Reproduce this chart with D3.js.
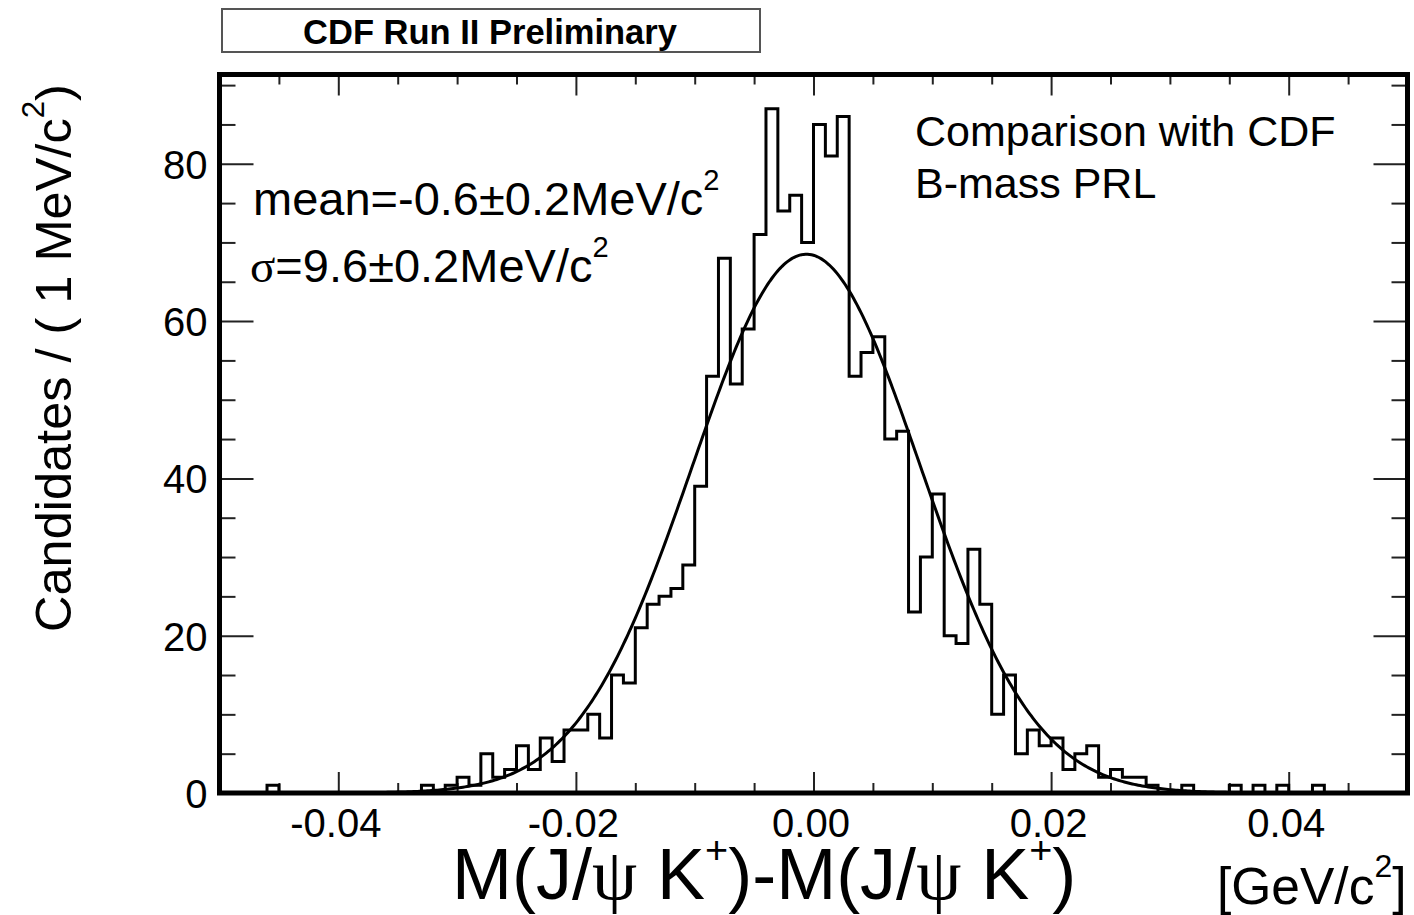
<!DOCTYPE html>
<html>
<head>
<meta charset="utf-8">
<script src="https://cdn.jsdelivr.net/npm/d3@7"></script>
<style>
  html, body { margin: 0; padding: 0; background: #fff; }
  svg { display: block; }
  text { font-family: "Liberation Sans", Arial, Helvetica, sans-serif; fill: #000; }
</style>
</head>
<body>
<svg id="chart" width="1414" height="915"></svg>
<script>
// ---------------- data ----------------
// histogram range and binning (GeV/c^2)
const histMin = -0.05;
const histMax = 0.05;
const nBins = 100;
// candidates per 1 MeV/c^2 bin
const counts = [
  0, 0, 0, 0, 1, 0, 0, 0, 0, 0,
  0, 0, 0, 0, 0, 0, 0, 1, 0, 1,
  2, 1, 5, 2, 3, 6, 3, 7, 4, 8,
  8, 10, 7, 15, 14, 21, 24, 25, 26, 29,
  39, 53, 68, 52, 59, 71, 87, 74, 76, 70,
  85, 81, 86, 53, 56, 58, 45, 46, 23, 30,
  38, 20, 19, 31, 24, 10, 15, 5, 8, 6,
  7, 3, 5, 6, 2, 3, 2, 2, 1, 0,
  0, 1, 0, 0, 0, 1, 0, 1, 0, 1,
  0, 0, 1, 0, 0, 0, 0, 0, 0, 0
];
// Gaussian fit parameters
const fitMean = -0.0006;
const fitSigma = 0.0096;
const fitPeak = 68.5;
// axis ticks
const xMajorTicks = [-0.04, -0.02, 0.00, 0.02, 0.04];
const xTickLabels = ["-0.04", "-0.02", "0.00", "0.02", "0.04"];
const yMajorTicks = [0, 20, 40, 60, 80];
const yTickLabels = ["0", "20", "40", "60", "80"];

// ---------------- layout ----------------
const svg = d3.select("#chart");
const frame = { left: 219.5, right: 1407.5, top: 74.5, bottom: 793 };
const yMax = d3.max(counts) * 1.05;

const x = d3.scaleLinear().domain([histMin, histMax]).range([frame.left, frame.right]);
const y = d3.scaleLinear().domain([0, yMax]).range([frame.bottom, frame.top]);

const binW = (histMax - histMin) / nBins;
const bins = counts.map((c, i) => ({ x0: histMin + i * binW, x1: histMin + (i + 1) * binW, c }));

// ---------------- ticks (drawn with d3 axes, inside the frame) ----------------
const xMinorTicks = d3.range(-0.05, 0.0501, 0.005).map(v => +v.toFixed(4)).filter(v => !xMajorTicks.some(m => Math.abs(m - v) < 1e-9) && v > histMin + 1e-9 && v < histMax - 1e-9);
const yMinorTicks = d3.range(5, yMax, 5).filter(v => v % 20 !== 0);

const xTickLen = 21, xMinorLen = 10, yTickLen = 34, yMinorLen = 16;
const tickStyle = g => g.selectAll("line").attr("stroke", "#222").attr("stroke-width", 2);

function axisGroup(axis, transform) {
  const g = svg.append("g").attr("transform", transform).call(axis);
  g.select(".domain").remove();
  g.selectAll("text").remove();
  tickStyle(g);
  return g;
}
// bottom
axisGroup(d3.axisTop(x).tickValues(xMajorTicks).tickSize(xTickLen), `translate(0,${frame.bottom})`);
axisGroup(d3.axisTop(x).tickValues(xMinorTicks).tickSize(xMinorLen), `translate(0,${frame.bottom})`);
// top
axisGroup(d3.axisBottom(x).tickValues(xMajorTicks).tickSize(xTickLen), `translate(0,${frame.top})`);
axisGroup(d3.axisBottom(x).tickValues(xMinorTicks).tickSize(xMinorLen), `translate(0,${frame.top})`);
// left
axisGroup(d3.axisRight(y).tickValues(yMajorTicks).tickSize(yTickLen), `translate(${frame.left},0)`);
axisGroup(d3.axisRight(y).tickValues(yMinorTicks).tickSize(yMinorLen), `translate(${frame.left},0)`);
// right
axisGroup(d3.axisLeft(y).tickValues(yMajorTicks).tickSize(yTickLen), `translate(${frame.right},0)`);
axisGroup(d3.axisLeft(y).tickValues(yMinorTicks).tickSize(yMinorLen), `translate(${frame.right},0)`);

// tick labels
const xLab = svg.append("g").attr("transform", `translate(0,${frame.bottom})`)
  .call(d3.axisBottom(x).tickValues(xMajorTicks).tickSize(0).tickPadding(0).tickFormat((d, i) => xTickLabels[i]));
xLab.select(".domain").remove();
xLab.selectAll("text").attr("font-size", 40).attr("font-family", "Liberation Sans, Arial, sans-serif")
  .attr("fill", "#000").attr("dy", null).attr("y", 44).attr("dx", -3);

const yLab = svg.append("g").attr("transform", `translate(${frame.left},0)`)
  .call(d3.axisLeft(y).tickValues(yMajorTicks).tickSize(0).tickPadding(12).tickFormat((d, i) => yTickLabels[i]));
yLab.select(".domain").remove();
yLab.selectAll("text").attr("font-size", 40).attr("font-family", "Liberation Sans, Arial, sans-serif")
  .attr("fill", "#000").attr("dy", "0.36em");

// ---------------- histogram outline ----------------
const pts = [[histMin, 0]];
bins.forEach(b => { pts.push([b.x0, b.c]); pts.push([b.x1, b.c]); });
pts.push([histMax, 0]);
svg.append("path")
  .attr("d", d3.line().x(d => x(d[0])).y(d => y(d[1]))(pts))
  .attr("fill", "none").attr("stroke", "#000").attr("stroke-width", 3)
  .attr("stroke-linejoin", "miter");

// ---------------- Gaussian fit curve ----------------
const curveX = d3.range(0, 601).map(i => histMin + i * (histMax - histMin) / 600);
const gauss = v => fitPeak * Math.exp(-0.5 * Math.pow((v - fitMean) / fitSigma, 2));
svg.append("path")
  .attr("d", d3.line().x(d => x(d)).y(d => y(gauss(d))).curve(d3.curveLinear)(curveX))
  .attr("fill", "none").attr("stroke", "#000").attr("stroke-width", 3);

// ---------------- frame ----------------
svg.append("rect")
  .attr("x", frame.left).attr("y", frame.top)
  .attr("width", frame.right - frame.left).attr("height", frame.bottom - frame.top)
  .attr("fill", "none").attr("stroke", "#000").attr("stroke-width", 5);

// ---------------- header box ----------------
svg.append("rect").attr("x", 222).attr("y", 9).attr("width", 538).attr("height", 43)
  .attr("fill", "#fff").attr("stroke", "#555").attr("stroke-width", 2);
svg.append("text").attr("x", 490).attr("y", 44).attr("text-anchor", "middle")
  .attr("font-size", 34.5).attr("font-weight", "bold").text("CDF Run II Preliminary");

// ---------------- annotations ----------------
function supText(sel, parts) {
  parts.forEach(p => {
    const t = sel.append("tspan").text(p.t);
    if (p.font) t.attr("font-family", p.font);
    if (p.sup) t.attr("font-size", p.supSize || "0.62em").attr("dy", p.supDy || "-0.85em");
    if (p.down) t.attr("dy", p.down);
  });
  return sel;
}
const SERIF = "Liberation Serif, Times New Roman, serif";

supText(svg.append("text").attr("x", 253).attr("y", 215).attr("font-size", 47),
  [{ t: "mean=-0.6±0.2MeV/c" }, { t: "2", sup: true }]);
supText(svg.append("text").attr("x", 250).attr("y", 282).attr("font-size", 47),
  [{ t: "σ", font: SERIF }, { t: "=9.6±0.2MeV/c" }, { t: "2", sup: true }]);

svg.append("text").attr("x", 915).attr("y", 146).attr("font-size", 43).text("Comparison with CDF");
svg.append("text").attr("x", 915).attr("y", 198).attr("font-size", 43).text("B-mass PRL");

// x-axis title
supText(svg.append("text").attr("x", 452).attr("y", 899).attr("font-size", 72),
  [{ t: "M(J/" }, { t: "ψ", font: SERIF }, { t: " K" }, { t: "+", sup: true, supSize: "0.55em", supDy: "-0.9em" },
   { t: ")-M(J/", down: "0.495em" }, { t: "ψ", font: SERIF }, { t: " K" }, { t: "+", sup: true, supSize: "0.55em", supDy: "-0.9em" },
   { t: ")", down: "0.495em" }]);
supText(svg.append("text").attr("x", 1217).attr("y", 904).attr("font-size", 51.5),
  [{ t: "[GeV/c" }, { t: "2", sup: true }, { t: "]", down: "0.527em" }]);

// y-axis title
supText(svg.append("text").attr("transform", "translate(71,632) rotate(-90)").attr("font-size", 50.5),
  [{ t: "Candidates / ( 1 MeV/c" }, { t: "2", sup: true }, { t: ")", down: "0.527em" }]);
</script>
</body>
</html>
